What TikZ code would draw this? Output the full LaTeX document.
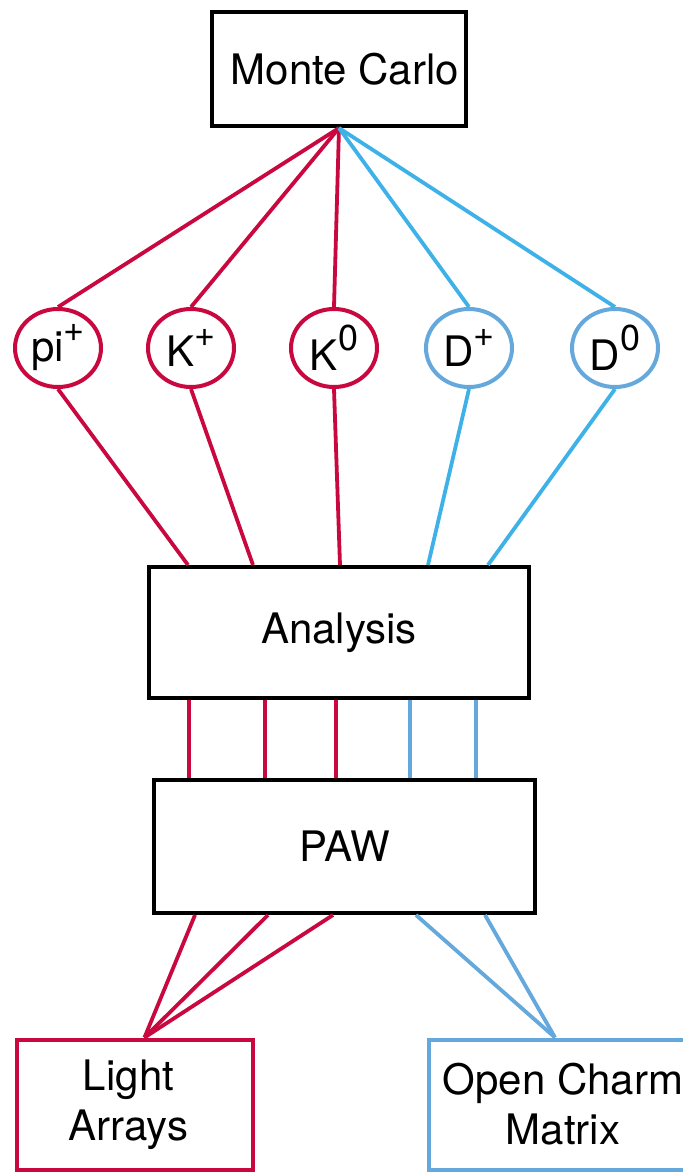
\documentclass[tikz,border=0pt]{standalone}
\usepackage{fontspec}
\setmainfont{TeX Gyre Heros}
\usetikzlibrary{shapes.geometric,calc}

\newcommand{\charge}[1]{\raisebox{10pt}{\fontsize{18}{18}\selectfont #1}}

\begin{document}
\begin{tikzpicture}[x=0.5pt,y=-0.5pt,
	box/.style={draw,line width=2pt,inner sep=0pt,align=center,font=\fontsize{21}{25}\selectfont},
	particle/.style={draw,ellipse,line width=2pt,inner sep=0pt,minimum width=43pt,minimum height=39pt,font=\fontsize{21}{25}\selectfont},
	redline/.style={crimson,line width=1.9pt},
	cyanline/.style={skyblue,line width=1.9pt},
	blueline/.style={steelblue,line width=1.9pt}]
	\definecolor{crimson}{RGB}{200,8,62}
	\definecolor{skyblue}{RGB}{62,178,232}
	\definecolor{steelblue}{RGB}{100,168,220}

	\useasboundingbox (0,0) rectangle (682,1174);

	% boxes
	\node[box,minimum width=127pt,minimum height=57pt] (mc) at (339,69) {\hspace*{6pt}Monte Carlo};
	\node[box,minimum width=190pt,minimum height=65.5pt] (ana) at (339,632.5) {Analysis};
	\node[box,minimum width=190.5pt,minimum height=66.5pt] (paw) at (344.5,846.5) {PAW};
	\node[box,crimson,text=black,minimum width=118pt,minimum height=65pt] (light) at (134.5,1104.5) {Light\hspace*{6pt}\\Arrays\hspace*{6pt}};
	\node[box,steelblue,text=black,minimum width=134pt,minimum height=65pt] (charm) at (563,1104.5) {Open Charm\\Matrix};

	% particles
	\node[particle,crimson,text=black] (pi) at (58,348) {pi\charge{+}};
	\node[particle,crimson,text=black] (kp) at (191,348) {K\charge{+}};
	\node[particle,crimson,text=black] (kz) at (334,348) {K\charge{0}};
	\node[particle,steelblue,text=black] (dp) at (469,348) {D\charge{+}};
	\node[particle,steelblue,text=black] (dz) at (615,348) {D\charge{0}};

	% monte carlo to particles
	\draw[redline] (mc.south) -- (pi.north);
	\draw[redline] (mc.south) -- (kp.north);
	\draw[redline] (mc.south) -- (kz.north);
	\draw[cyanline] (mc.south) -- (dp.north);
	\draw[cyanline] (mc.south) -- (dz.north);

	% particles to analysis
	\draw[redline] (pi.south) -- ($(ana.north west)+(41,0)$);
	\draw[redline] (kp.south) -- ($(ana.north west)+(106,0)$);
	\draw[redline] (kz.south) -- ($(ana.north west)+(193,0)$);
	\draw[cyanline] (dp.south) -- ($(ana.north west)+(281,0)$);
	\draw[cyanline] (dz.south) -- ($(ana.north west)+(341,0)$);

	% analysis to paw
	\foreach \s/\c in {42/redline,118/redline,189/redline,263/blueline,329/blueline}
		\draw[\c] ($(ana.south west)+(\s,0)$) -- ($(paw.north west)+(\s-5,0)$);

	% paw to outputs
	\foreach \s in {43,116,181}
		\draw[redline] ($(paw.south west)+(\s,0)$) -- ($(light.north)+(10,0)$);
	\foreach \s in {264,333}
		\draw[blueline] ($(paw.south west)+(\s,0)$) -- ($(charm.north)+(-8,0)$);
\end{tikzpicture}
\end{document}
